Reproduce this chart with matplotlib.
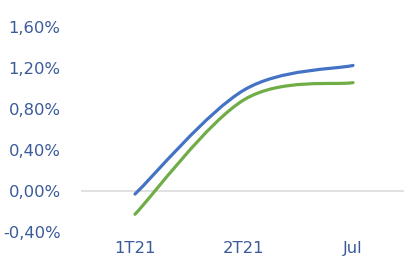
import matplotlib
matplotlib.use('Agg')
import matplotlib.pyplot as plt
from matplotlib.path import Path
from matplotlib.patches import PathPatch
from matplotlib.ticker import FuncFormatter

categorias = ['1T21', '2T21', 'Jul']
serie_azul = [-0.03, 0.985, 1.225]
serie_verde = [-0.227, 0.89, 1.057]
yticks = [-0.4, 0.0, 0.4, 0.8, 1.2, 1.6]

AZUL = '#4472C4'
VERDE = '#70AD47'
TEXTO = '#3A5A99'


def curva_suave(xs, ys):
    # bezier tipo Excel (catmull-rom)
    pts = list(zip(xs, ys))
    n = len(pts)
    verts = [pts[0]]
    codes = [Path.MOVETO]
    for i in range(n - 1):
        p0 = pts[i - 1] if i > 0 else pts[i]
        p1 = pts[i]
        p2 = pts[i + 1]
        p3 = pts[i + 2] if i + 2 < n else pts[i + 1]
        c1 = (p1[0] + (p2[0] - p0[0]) / 6, p1[1] + (p2[1] - p0[1]) / 6)
        c2 = (p2[0] - (p3[0] - p1[0]) / 6, p2[1] - (p3[1] - p1[1]) / 6)
        verts += [c1, c2, p2]
        codes += [Path.CURVE4] * 3
    return Path(verts, codes)


fig = plt.figure(figsize=(4.04, 2.58), dpi=100)
ax = fig.add_axes([80.5 / 404, 26 / 258, 327 / 404, 205 / 258])

x = list(range(len(categorias)))
ax.axhline(0, color='#D9D9D9', lw=1.1, zorder=1)
for serie, color in [(serie_azul, AZUL), (serie_verde, VERDE)]:
    ax.add_patch(PathPatch(curva_suave(x, serie), fill=False, edgecolor=color,
                           lw=2.3, capstyle='round', zorder=3))

ax.set_xlim(-0.5, 2.5)
ax.set_ylim(-0.4, 1.6)
ax.set_xticks(x)
ax.set_xticklabels(categorias)
ax.set_yticks(yticks)
ax.yaxis.set_major_formatter(FuncFormatter(lambda v, p: ('%.2f%%' % v).replace('.', ',')))
ax.tick_params(axis='both', length=0, labelsize=11.8, labelcolor=TEXTO)
ax.tick_params(axis='y', pad=14.4)
ax.tick_params(axis='x', pad=6.8)
for s in ax.spines.values():
    s.set_visible(False)

fig.savefig('out.png', dpi=100)
